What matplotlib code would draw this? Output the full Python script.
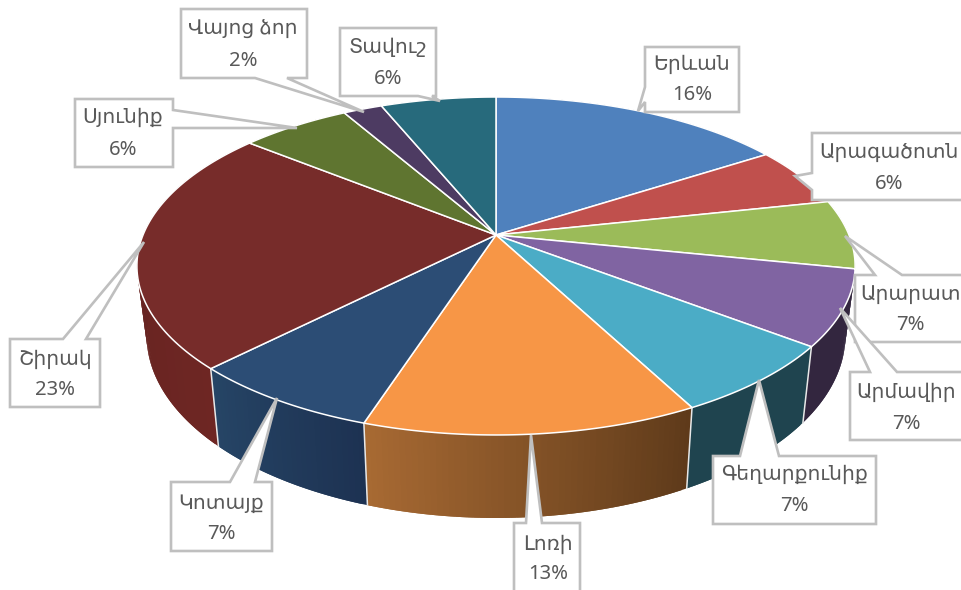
import numpy as np
import matplotlib
matplotlib.use("Agg")
import matplotlib.pyplot as plt
from matplotlib.colors import to_rgb

plt.rcParams['font.family'] = ['Noto Sans', 'DejaVu Sans']

regions = ["Երևան", "Արագածոտն", "Արարատ", "Արմավիր", "Գեղարքունիք", "Լոռի",
           "Կոտայք", "Շիրակ", "Սյունիք", "Վայոց ձոր", "Տավուշ"]
values = [15.9, 5.7, 6.6, 7.2, 6.9, 12.7, 7.4, 23.4, 5.9, 2.1, 6.2]
top_colors = ["#4F81BD", "#C0504D", "#9BBB59", "#8064A2", "#4BACC6", "#F79646",
              "#2C4D75", "#772C2A", "#5F7530", "#4D3B62", "#276A7C"]
wall_start = ["#2F4D71", "#73302E", "#5D7035", "#33263F", "#1F444F", "#5E3A1A",
              "#1D3252", "#6E2623", "#39461D", "#2E233B", "#173F4A"]
wall_end = ["#2F4D71", "#73302E", "#5D7035", "#33263F", "#1F444F", "#A86A33",
            "#264566", "#5F2220", "#39461D", "#2E233B", "#173F4A"]

# label box (l, t, r, b), pointer tip, side, two pointer base offsets, text x, y1, y2
callouts = [
    ((645, 47, 739, 112), (638, 111), 'left', 87, 102, 692, 65, 95),
    ((812, 133, 975, 200), (795, 176), 'left', 173, 190, 889, 153, 184),
    ((855, 275, 975, 342), (845, 236), 'top', 875, 902, 910, 295, 325),
    ((850, 372, 975, 440), (840, 308), 'top', 870, 897, 906, 393, 424),
    ((713, 456, 876, 524), (759, 380), 'top', 740, 779, 794, 475, 506),
    ((514, 523, 580, 600), (531, 435), 'top', 526, 542, 548, 545, 574),
    ((171, 482, 272, 551), (277, 398), 'top', 230, 255, 221, 504, 534),
    ((10, 339, 100, 407), (144, 242), 'top', 63, 86, 55, 360, 390),
    ((75, 99, 173, 167), (297, 128), 'right', 110, 128, 123, 118, 150),
    ((181, 9, 307, 78), (364, 112), 'bottom', 255, 287, 243, 30, 61),
    ((340, 28, 436, 96), (440, 101), 'bottom', 418, 432, 388, 48, 79),
]

CX, CY, A, B, K = 496.0, 235.0, 353.0, 163.3, 0.1834
DY, SX, SY = 67.0, 0.973, 1.08
EDGE = "#BFBFBF"
TEXT = "#595959"


def top_xy(theta):
    u, v = np.sin(theta), np.cos(theta)
    w = 1 + K * v
    return CX + A * u / w, CY - B * v / w


def low_xy(theta):
    x, y = top_xy(theta)
    return CX + SX * (x - CX), CY + DY + SY * (y - CY)


fig = plt.figure(figsize=(9.61, 5.90), dpi=100)
ax = fig.add_axes([0, 0, 1, 1])
ax.set_xlim(0, 961)
ax.set_ylim(590, 0)
ax.axis('off')

edges = np.radians(np.concatenate([[0], np.cumsum(values)]) / sum(values) * 360)

# side wall, back to front; each strip overlaps the next so no seams show
order = sorted(range(len(values)),
               key=lambda i: -abs((edges[i] + edges[i + 1]) / 2 - np.pi))
for i in order:
    n = max(4, int((edges[i + 1] - edges[i]) * 70))
    th = np.linspace(edges[i], edges[i + 1], n + 1)
    c0, c1 = np.array(to_rgb(wall_start[i])), np.array(to_rgb(wall_end[i]))
    for j in range(n):
        f = (j + 0.5) / n
        col = c0 * (1 - f) + c1 * f
        seg = th[j:min(j + 3, n + 1)]
        x1, y1 = top_xy(seg)
        x2, y2 = low_xy(seg)
        ax.fill(np.r_[x1, x2[::-1]], np.r_[y1, y2[::-1]],
                facecolor=col, edgecolor='none', zorder=2)

# wall seams on the visible front
for t in edges[1:]:
    if top_xy(t)[1] > 300:
        x1, y1 = top_xy(t)
        x2, y2 = low_xy(t)
        ax.plot([x1, x2], [y1, y2], color="#E8E8E8", lw=1.1, zorder=3)

# top face
for i in range(len(values)):
    th = np.linspace(edges[i], edges[i + 1], 80)
    x, y = top_xy(th)
    ax.fill(np.r_[CX, x], np.r_[CY, y], facecolor=top_colors[i],
            edgecolor="white", lw=1.1, joinstyle='round', zorder=4)

# callouts
for (l, t, r, b), tip, side, p, q, tx, y1, y2 in callouts:
    if side == 'top':
        pts = [(l, t), (p, t), tip, (q, t), (r, t), (r, b), (l, b)]
    elif side == 'bottom':
        pts = [(l, t), (r, t), (r, b), (q, b), tip, (p, b), (l, b)]
    elif side == 'left':
        pts = [(l, t), (r, t), (r, b), (l, b), (l, q), tip, (l, p)]
    else:
        pts = [(l, t), (r, t), (r, p), tip, (r, q), (r, b), (l, b)]
    ax.fill(*zip(*pts), facecolor="white", edgecolor=EDGE, lw=1.9,
            joinstyle='miter', zorder=5)

for i, (box, tip, side, p, q, tx, y1, y2) in enumerate(callouts):
    ax.text(tx, y1, regions[i], ha='center', va='center', fontsize=14.6,
            color=TEXT, zorder=6)
    ax.text(tx, y2, f"{round(values[i])}%", ha='center', va='center', fontsize=14.6,
            color=TEXT, zorder=6)

fig.savefig("out.png", dpi=100)
